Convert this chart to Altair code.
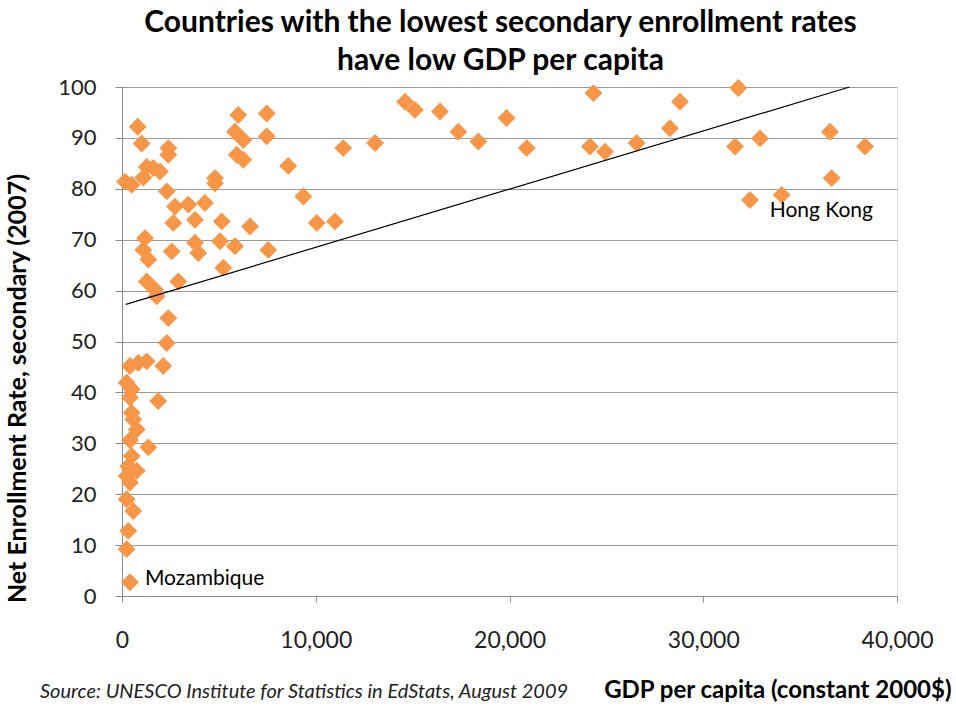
import altair as alt
import pandas as pd

# GDP per capita (constant 2000$) and net secondary enrollment rate (2007)
gdp = [810, 1017, 2390, 2390, 6000, 7470, 5830, 6260, 7470, 11420,
       5920, 6260, 8580, 4800, 4800, 1275, 1615, 1960, 155, 500,
       1100, 2310, 9360, 2735, 3420, 4280, 2650, 3770, 5150, 6610,
       10050, 10990, 1190, 1100, 1360, 2565, 3770, 3940, 5060, 5830,
       7550, 1275, 1700, 1790, 2905, 5230, 2390, 2310, 410, 840,
       1275, 2130, 240, 500, 410, 1870, 500, 580, 760, 410,
       1360, 500, 325, 760, 240, 410, 240, 580, 325, 240,
       410, 13060, 14610, 15120, 16410, 17360, 18390, 19850, 20890, 24330,
       24150, 24930, 26560, 28280, 28800, 31810, 31640, 32930, 32410, 34050,
       36540, 38350, 36630]
enroll = [92.2, 88.9, 88.0, 86.7, 94.5, 94.8, 91.2, 89.6, 90.3, 88.0,
          86.7, 85.7, 84.5, 82.1, 81.1, 84.3, 84.1, 83.4, 81.4, 80.8,
          82.2, 79.5, 78.5, 76.5, 76.9, 77.2, 73.3, 73.9, 73.6, 72.6,
          73.3, 73.6, 70.3, 68.0, 66.1, 67.7, 69.4, 67.4, 69.7, 68.7,
          68.0, 61.8, 60.2, 58.9, 61.8, 64.5, 54.6, 49.7, 45.2, 45.8,
          46.1, 45.2, 41.9, 40.6, 39.0, 38.3, 36.0, 34.7, 32.7, 30.6,
          29.2, 27.5, 25.5, 24.6, 23.6, 22.3, 19.0, 16.7, 12.8, 9.2,
          2.7, 89.0, 97.1, 95.5, 95.2, 91.2, 89.3, 93.9, 88.0, 98.8,
          88.3, 87.3, 89.0, 91.9, 97.1, 99.8, 88.3, 89.9, 77.8, 78.8,
          91.2, 88.3, 82.1]

trend_x = [200, 37550]
trend_y = [57.3, 100]

moz_name, moz_x, moz_y = ["Mozambique"], [410], [2.7]
hk_name, hk_x, hk_y = ["Hong Kong"], [34050], [78.8]

x_ticks = [0, 10000, 20000, 30000, 40000]
y_ticks = [0, 10, 20, 30, 40, 50, 60, 70, 80, 90, 100]

pts = pd.DataFrame({"gdp": gdp, "enroll": enroll})
trend = pd.DataFrame({"gdp": trend_x, "enroll": trend_y})
moz = pd.DataFrame({"name": moz_name, "gdp": moz_x, "enroll": moz_y})
hk = pd.DataFrame({"name": hk_name, "gdp": hk_x, "enroll": hk_y})

FONT = "Lato"

xscale = alt.Scale(domain=[0, 40000], nice=False)
yscale = alt.Scale(domain=[0, 100], nice=False)

xaxis = alt.Axis(
    values=x_ticks, format=",d", grid=False, labelFlush=False,
    domainColor="#8c8c8c", tickColor="#8c8c8c", tickSize=6,
    labelFont=FONT, labelFontSize=23, labelColor="#222222", labelPadding=27,
    title="GDP per capita (constant 2000$)", titleFont=FONT, titleFontSize=24,
    titleFontWeight="bold", titleColor="#000000",
    titleX=829, titleY=82, titleAlign="right", titleAnchor="end",
)
yaxis = alt.Axis(
    values=y_ticks, grid=True, gridColor="#9a9a9a", gridWidth=1,
    domainColor="#8c8c8c", tickColor="#8c8c8c", tickSize=7,
    labelFont=FONT, labelFontSize=22, labelColor="#222222", labelPadding=19,
    title="Net Enrollment Rate, secondary (2007)", titleFont=FONT,
    titleFontSize=25, titleFontWeight="bold", titleColor="#000000",
    titleX=-92, titleY=301, titleAlign="center", titleAnchor="middle",
)

points = alt.Chart(pts).mark_point(
    shape="diamond", filled=True, size=320, color="#F79646", opacity=1
).encode(
    x=alt.X("gdp:Q", scale=xscale, axis=xaxis),
    y=alt.Y("enroll:Q", scale=yscale, axis=yaxis),
)

line = alt.Chart(trend).mark_line(color="#000000", strokeWidth=1.2).encode(
    x=alt.X("gdp:Q", scale=xscale),
    y=alt.Y("enroll:Q", scale=yscale),
)

moz_text = alt.Chart(moz).mark_text(
    font=FONT, fontSize=21, color="#000000", align="left", baseline="middle",
    dx=15, dy=-3
).encode(
    x=alt.X("gdp:Q", scale=xscale),
    y=alt.Y("enroll:Q", scale=yscale),
    text="name:N",
)

hk_text = alt.Chart(hk).mark_text(
    font=FONT, fontSize=21, color="#000000", align="left", baseline="middle",
    dx=-12, dy=16
).encode(
    x=alt.X("gdp:Q", scale=xscale),
    y=alt.Y("enroll:Q", scale=yscale),
    text="name:N",
)

source = alt.Chart(pd.DataFrame({"t": ["Source:  UNESCO Institute for Statistics in EdStats, August 2009"]})).mark_text(
    font=FONT, fontSize=20, fontStyle="italic", color="#222222", align="left", baseline="middle"
).encode(x=alt.value(-82), y=alt.value(96 + 509), text="t:N")

chart = alt.layer(points, line, moz_text, hk_text, source).properties(
    width=775, height=509,
    title=alt.TitleParams(
        text=["Countries with the lowest secondary enrollment rates", "have low GDP per capita"],
        font=FONT, fontSize=30, fontWeight="bold", color="#000000",
        anchor="middle", lineHeight=38, offset=4, dx=-9, dy=4,
    ),
    autosize=alt.AutoSizeParams(type="none"),
    padding={"left": 122, "top": 87, "right": 59, "bottom": 113},
).configure_view(
    fill="#FCEDE5", stroke=None
).configure(background="#ffffff")

chart.save("out.html", embed_options={"renderer": "svg", "actions": False})
